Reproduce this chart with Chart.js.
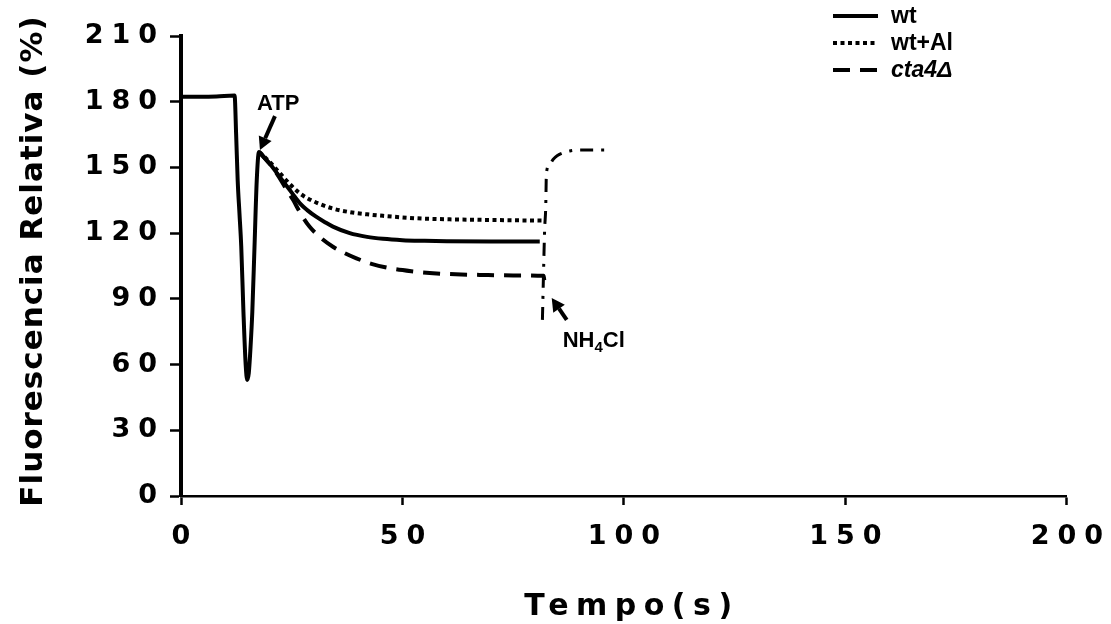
<!DOCTYPE html>
<html>
<head>
<meta charset="utf-8">
<script src="https://cdn.jsdelivr.net/npm/chart.js@4/dist/chart.umd.min.js"></script>
<style>
html,body{margin:0;padding:0;background:#fff;}
#wrap{width:1111px;height:624px;position:relative;}
</style>
</head>
<body>
<div id="wrap"><canvas id="c"></canvas></div>
<script>
// ---- data ----
const xTicks = [0, 50, 100, 150, 200];
const yTicks = [0, 30, 60, 90, 120, 150, 180, 210];
const xTitle = 'Tempo(s)';
const yTitle = 'Fluorescencia Relativa (%)';
const seriesNames = ['wt', 'wt+Al', 'cta4Δ'];

const wtTime  = [0, 4, 8, 12.1, 12.45, 12.8, 13.2, 13.6, 14.1, 14.6, 14.95, 15.3, 15.7, 16.1, 16.6, 17.1, 17.6, 19, 20.5, 22, 23.5, 25, 26.8, 28.5, 30.5, 32.5, 34.3, 38.1, 42, 45.6, 50, 55, 60, 70, 81];
const wtValue = [182.3, 182.3, 182.4, 182.8, 165, 144, 129, 114, 84, 60, 53, 56, 68, 84, 114, 144, 157, 154, 150.5, 146.5, 142.5, 138.5, 133.7, 130.5, 127.5, 125, 123, 120, 118.3, 117.4, 116.8, 116.5, 116.3, 116.2, 116.2];

const wtAlTime  = [17.6, 19, 20.5, 23, 25, 26.8, 28.5, 30.5, 34.3, 38.1, 42, 45.6, 53.1, 60.7, 70, 82.2];
const wtAlValue = [157, 154.5, 151.5, 145.8, 141.5, 138.2, 136, 134, 131.2, 129.6, 128.6, 127.9, 126.8, 126.3, 126, 125.7];

const cta4Time  = [17.6, 19, 20.5, 22, 23.5, 25.3, 27, 29, 31.5, 34.3, 37, 39.6, 43, 47.1, 52, 56.9, 62, 68.2, 75, 81.9, 82.1];
const cta4Value = [157, 154, 150.5, 146, 141, 135.2, 129, 123, 118, 113.8, 110.8, 108.5, 106, 104, 102.6, 101.7, 101.2, 100.9, 100.7, 100.5, 96.3];

const nh4Time  = [81.6, 81.9, 82.1, 82.35, 82.5, 83.2, 84, 85, 86.3, 88, 90, 96.1];
const nh4Value = [80.4, 106, 121.5, 132, 147.3, 151.2, 153.6, 155.4, 156.7, 157.6, 158, 158];

const annotationPoints = [
  {label: 'ATP', x: 17.6, y: 157},
  {label: 'NH4Cl', x: 83.7, y: 90.4}
];

// ---- helpers ----
const pts = (t, v) => t.map((x, i) => ({x: x, y: v[i]}));

const datasets = [
  {label: seriesNames[0], data: pts(wtTime, wtValue), borderColor: '#000', borderWidth: 4, borderDash: []},
  {label: seriesNames[1], data: pts(wtAlTime, wtAlValue), borderColor: '#000', borderWidth: 4, borderDash: [4, 3.5]},
  {label: seriesNames[2], data: pts(cta4Time, cta4Value), borderColor: '#000', borderWidth: 4, borderDash: [17, 10]},
  {label: 'NH4Cl', data: pts(nh4Time, nh4Value), borderColor: '#000', borderWidth: 3, borderDash: [13, 8, 3, 8]}
].map(d => Object.assign(d, {pointRadius: 0, fill: false, cubicInterpolationMode: 'monotone', borderCapStyle: 'butt'}));

const TICK_SPACING = 8;

const spacingPlugin = {
  id: 'spacing',
  beforeDraw(chart) { chart.ctx.letterSpacing = TICK_SPACING + 'px'; },
  beforeDatasetsDraw(chart) { chart.ctx.letterSpacing = '0px'; }
};

function arrow(ctx, x0, y0, x1, y1) {
  const ang = Math.atan2(y1 - y0, x1 - x0);
  const hl = 13, hw = 7;
  const bx = x1 - hl * Math.cos(ang), by = y1 - hl * Math.sin(ang);
  ctx.beginPath();
  ctx.moveTo(x0, y0);
  ctx.lineTo(bx, by);
  ctx.lineWidth = 4;
  ctx.stroke();
  ctx.beginPath();
  ctx.moveTo(x1, y1);
  ctx.lineTo(bx + hw * Math.sin(ang), by - hw * Math.cos(ang));
  ctx.lineTo(bx - hw * Math.sin(ang), by + hw * Math.cos(ang));
  ctx.closePath();
  ctx.fill();
}

const decorPlugin = {
  id: 'decor',
  afterDraw(chart) {
    const ctx = chart.ctx;
    const ca = chart.chartArea;
    const xs = chart.scales.x, ys = chart.scales.y;
    ctx.save();
    ctx.fillStyle = '#000';
    ctx.strokeStyle = '#000';
    ctx.setLineDash([]);

    // y title
    ctx.save();
    ctx.font = 'bold 31px "DejaVu Sans"';
    ctx.letterSpacing = '1px';
    ctx.textAlign = 'center';
    ctx.textBaseline = 'alphabetic';
    ctx.translate(42, (ca.top + ca.bottom) / 2 - 5);
    ctx.rotate(-Math.PI / 2);
    ctx.fillText(yTitle, 0, 0);
    ctx.restore();

    // x title
    ctx.save();
    ctx.font = 'bold 30px "DejaVu Sans"';
    ctx.letterSpacing = '7.5px';
    ctx.textAlign = 'center';
    ctx.textBaseline = 'alphabetic';
    ctx.fillText(xTitle, (ca.left + ca.right) / 2 + 8, 615);
    ctx.restore();

    // legend
    const lx0 = 833, lx1 = 878, tx = 891;
    const ly = [16, 43, 70];
    for (let i = 0; i < 3; i++) {
      const ds = chart.data.datasets[i];
      ctx.save();
      ctx.lineWidth = ds.borderWidth;
      ctx.setLineDash(ds.borderDash);
      ctx.lineCap = 'butt';
      ctx.beginPath();
      ctx.moveTo(lx0, ly[i]);
      ctx.lineTo(lx1, ly[i]);
      ctx.stroke();
      ctx.restore();
      ctx.font = (i === 2 ? 'italic ' : '') + 'bold 23px "Liberation Sans"';
      ctx.textAlign = 'left';
      ctx.textBaseline = 'middle';
      ctx.fillText(ds.label, tx, ly[i] + 1);
    }

    // ATP annotation
    const a = annotationPoints[0];
    const ax = xs.getPixelForValue(a.x), ay = ys.getPixelForValue(a.y);
    arrow(ctx, ax + 16, ay - 36, ax + 1, ay - 2);
    ctx.font = 'bold 22px "Liberation Sans"';
    ctx.textAlign = 'left';
    ctx.textBaseline = 'alphabetic';
    ctx.fillText(a.label, ax - 2, ay - 42);

    // NH4Cl annotation
    const n = annotationPoints[1];
    const nx = xs.getPixelForValue(n.x), ny = ys.getPixelForValue(n.y);
    arrow(ctx, nx + 15, ny + 22, nx, ny);
    let px = nx + 11, py = ny + 49;
    ctx.font = 'bold 22px "Liberation Sans"';
    ctx.fillText('NH', px, py);
    px += ctx.measureText('NH').width;
    ctx.font = 'bold 15px "Liberation Sans"';
    ctx.fillText('4', px, py + 5);
    px += ctx.measureText('4').width;
    ctx.font = 'bold 22px "Liberation Sans"';
    ctx.fillText('Cl', px, py);

    ctx.restore();
  }
};

const tickFont = {family: 'DejaVu Sans', size: 27, weight: 'bold'};

new Chart(document.getElementById('c'), {
  type: 'line',
  data: {datasets: datasets},
  options: {
    responsive: true,
    maintainAspectRatio: false,
    animation: false,
    layout: {padding: {top: 36, right: 44, left: 0, bottom: 0}},
    plugins: {legend: {display: false}, tooltip: {enabled: false}},
    scales: {
      x: {
        type: 'linear', min: 0, max: 200,
        afterBuildTicks: s => { s.ticks = xTicks.map(v => ({value: v})); },
        afterFit: s => { s.height = 128; },
        grid: {drawOnChartArea: false, drawTicks: true, tickLength: 9, tickWidth: 2.5, tickColor: '#000', color: '#000'},
        border: {display: true, color: '#000', width: 2.5},
        ticks: {color: '#000', font: tickFont, padding: 16, labelOffset: TICK_SPACING / 2, maxRotation: 0, autoSkip: false}
      },
      y: {
        type: 'linear', min: 0, max: 210,
        afterBuildTicks: s => { s.ticks = yTicks.map(v => ({value: v})); },
        afterFit: s => { s.width = 181; },
        grid: {drawOnChartArea: false, drawTicks: true, tickLength: 11, tickWidth: 2.5, tickColor: '#000', color: '#000'},
        border: {display: true, color: '#000', width: 4},
        ticks: {color: '#000', font: tickFont, padding: 5, autoSkip: false}
      }
    }
  },
  plugins: [spacingPlugin, decorPlugin]
});
</script>
</body>
</html>
